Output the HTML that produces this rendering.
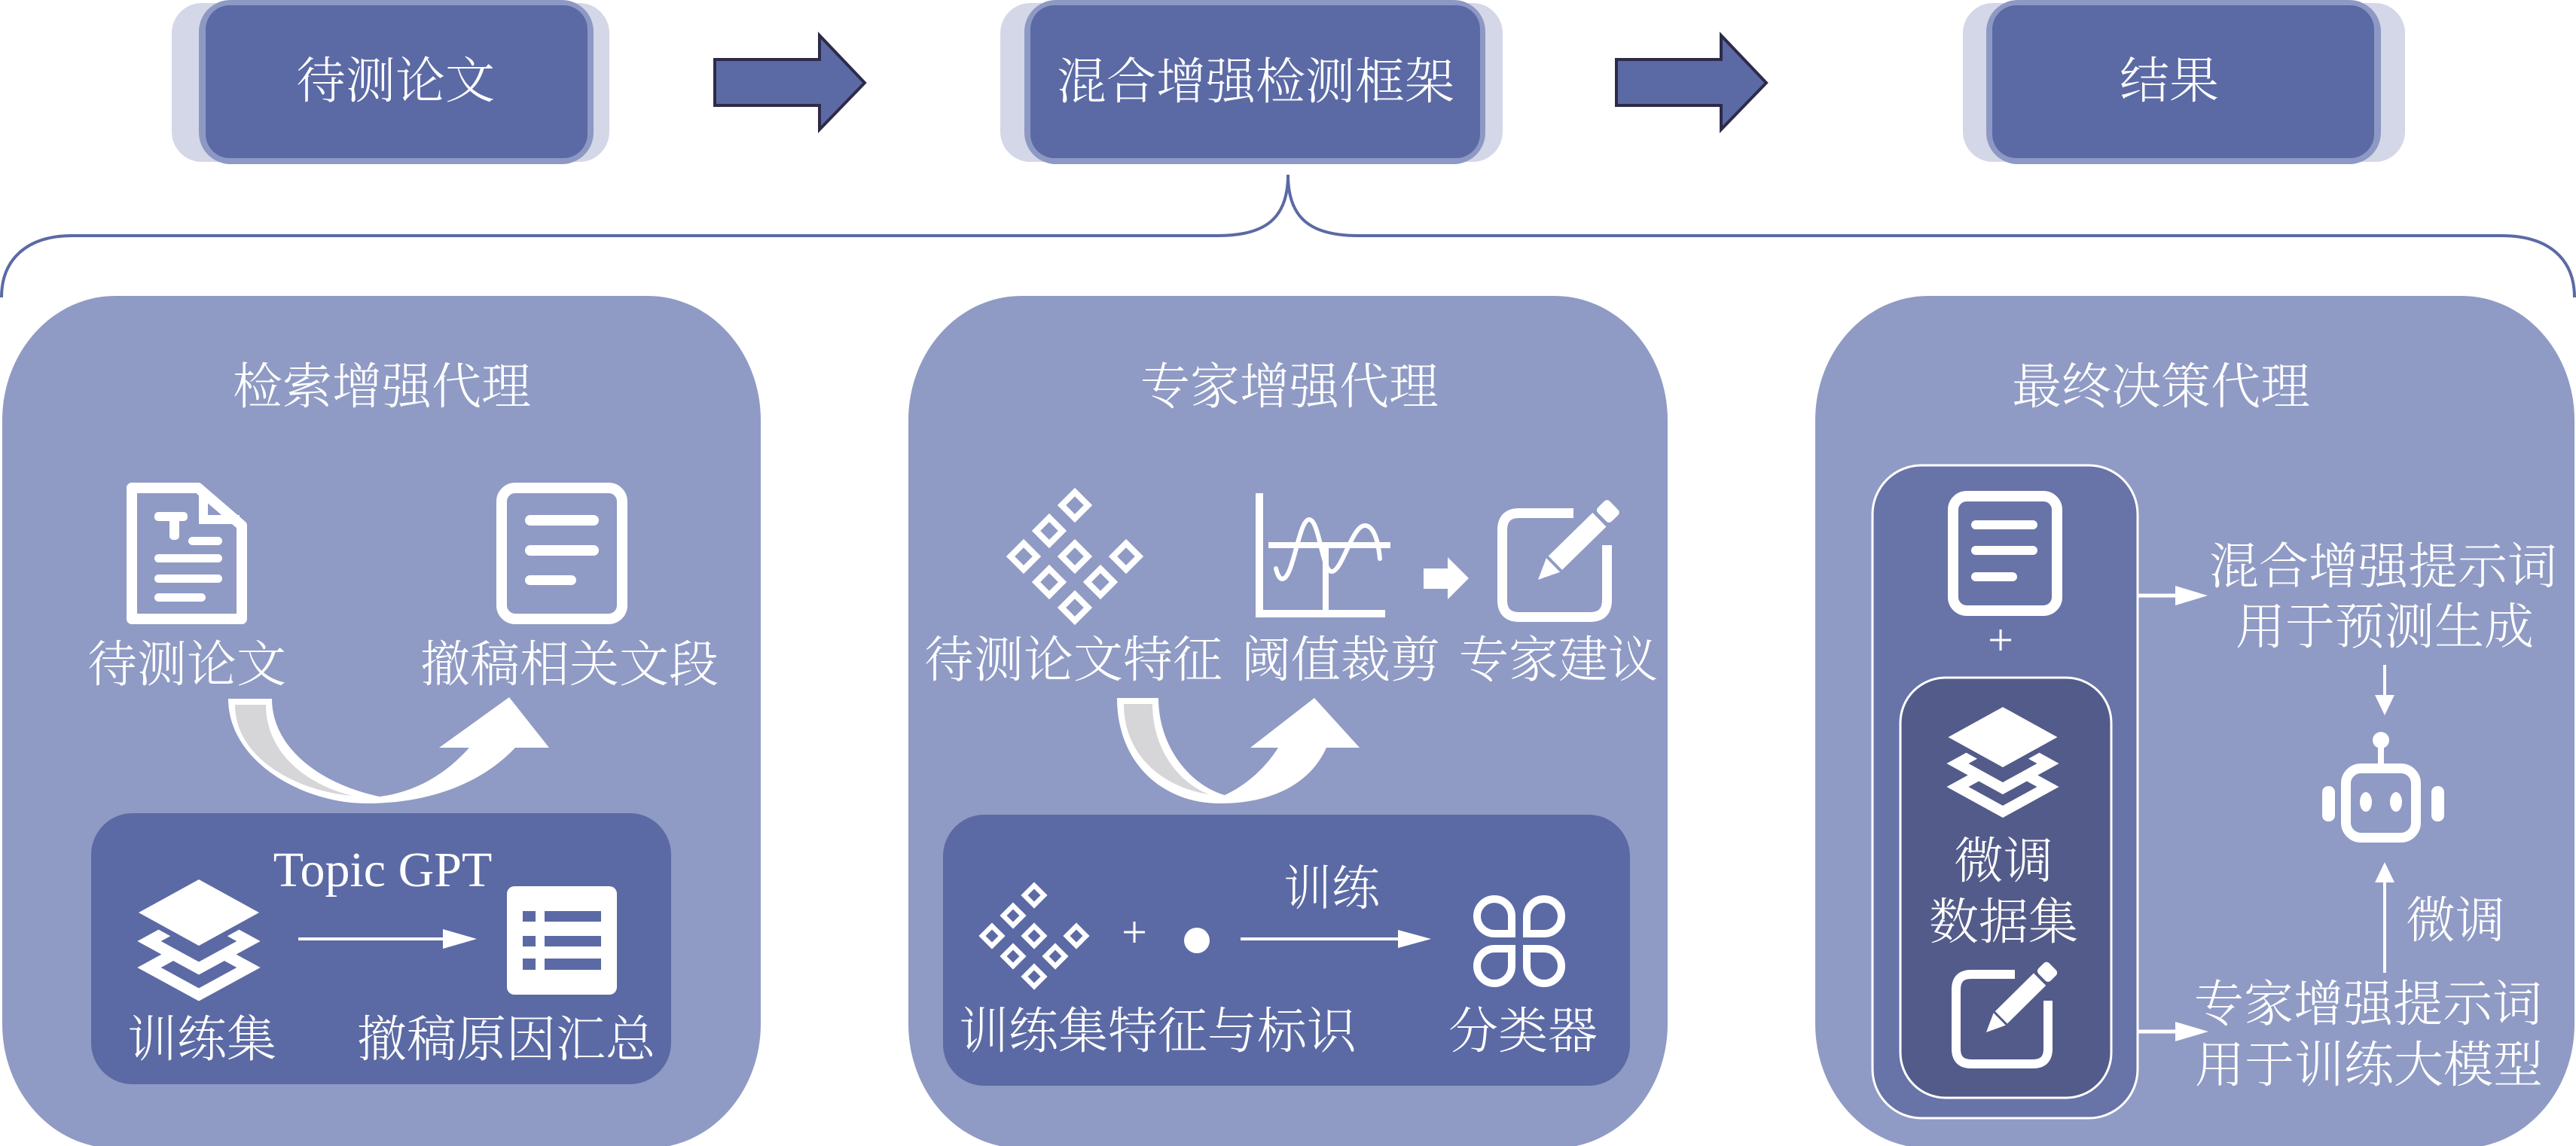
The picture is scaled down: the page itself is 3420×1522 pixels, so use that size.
<!DOCTYPE html>
<html><head><meta charset="utf-8"><style>
html,body{margin:0;padding:0;background:#fff;}
svg{display:block;}
text{font-family:"Liberation Serif","Noto Serif CJK SC",serif;fill:#fff;font-weight:300;}
</style></head><body>
<svg width="3420" height="1522" viewBox="0 0 3420 1522" xmlns="http://www.w3.org/2000/svg">
<!-- top boxes -->
<rect x="228" y="4" width="581" height="211" rx="40" fill="#d4d7e7"/>
<rect x="264" y="0" width="524" height="218" rx="42" fill="#8d99c4"/>
<rect x="273" y="7" width="507" height="203" rx="32" fill="#5b6aa4"/>
<text x="525" y="130" font-size="66" text-anchor="middle">待测论文</text>

<rect x="1328" y="4" width="667" height="211" rx="40" fill="#d4d7e7"/>
<rect x="1360" y="0" width="612" height="218" rx="42" fill="#8d99c4"/>
<rect x="1368" y="7" width="597" height="203" rx="32" fill="#5b6aa4"/>
<text x="1667" y="131" font-size="66" text-anchor="middle">混合增强检测框架</text>

<rect x="2606" y="4" width="587" height="211" rx="40" fill="#d4d7e7"/>
<rect x="2637" y="0" width="524" height="218" rx="42" fill="#8d99c4"/>
<rect x="2645" y="7" width="507" height="203" rx="32" fill="#5b6aa4"/>
<text x="2880" y="130" font-size="66" text-anchor="middle">结果</text>

<!-- big arrows -->
<polygon points="949,79 1088,79 1088,47 1148,110 1088,172 1088,140 949,140" fill="#5b6aa4" stroke="#2e2b48" stroke-width="4"/>
<polygon points="2146,79 2285,79 2285,47 2345,110 2285,172 2285,140 2146,140" fill="#5b6aa4" stroke="#2e2b48" stroke-width="4"/>

<!-- bracket -->
<path d="M 2 395 C 2 345, 35 313, 96 313 L 1617 313 C 1680 313, 1710 290, 1710 232 C 1710 290, 1740 313, 1803 313 L 3321 313 C 3385 313, 3418 345, 3418 395" fill="none" stroke="#5b6aa4" stroke-width="4"/>

<!-- panels -->
<rect x="3" y="393" width="1007" height="1132" rx="150" ry="165" fill="#8f9bc4"/>
<rect x="1206" y="393" width="1008" height="1132" rx="150" ry="165" fill="#8f9bc4"/>
<rect x="2410" y="393" width="1008" height="1132" rx="150" ry="165" fill="#8f9bc4"/>

<text x="507" y="536" font-size="66" text-anchor="middle">检索增强代理</text>
<text x="1712" y="536" font-size="66" text-anchor="middle">专家增强代理</text>
<text x="2869" y="536" font-size="66" text-anchor="middle">最终决策代理</text>

<!-- ===== Panel 1 ===== -->
<path d="M 175 648 L 263 648 L 321 698 L 321 822 L 175 822 Z" fill="none" stroke="#fff" stroke-width="14" stroke-linejoin="round"/>
<path d="M 270 652 L 270 690 L 318 690" fill="none" stroke="#fff" stroke-width="12"/>
<rect x="205" y="680" width="44" height="12" rx="5" fill="#fff"/>
<rect x="225" y="680" width="13" height="37" rx="5" fill="#fff"/>
<rect x="250" y="713" width="45" height="11" rx="5.5" fill="#fff"/>
<rect x="205" y="736" width="90" height="11" rx="5.5" fill="#fff"/>
<rect x="205" y="763" width="90" height="11" rx="5.5" fill="#fff"/>
<rect x="205" y="788" width="68" height="11" rx="5.5" fill="#fff"/>
<rect x="666" y="648" width="160" height="174" rx="18" fill="none" stroke="#fff" stroke-width="14"/>
<rect x="697" y="684" width="98" height="14" rx="7" fill="#fff"/>
<rect x="697" y="724" width="98" height="14" rx="7" fill="#fff"/>
<rect x="697" y="764" width="68" height="13" rx="6.5" fill="#fff"/>
<text x="248" y="905" font-size="66" text-anchor="middle">待测论文</text>
<text x="756" y="905" font-size="66" text-anchor="middle">撤稿相关文段</text>
<path d="M 303 928 L 361 928 C 361 990, 420 1040, 504 1058 C 550 1052, 590 1030, 623 993 L 583 993 L 676 926 L 729 993 L 684 993 C 640 1040, 570 1067, 487 1067 C 400 1067, 303 1010, 303 928 Z" fill="#fff"/>
<path d="M 312 936 L 353 936 C 353 995, 400 1040, 468 1057 C 390 1050, 312 1005, 312 936 Z" fill="#d6d6d8"/>
<rect x="121" y="1080" width="770" height="360" rx="55" fill="#5b6aa4"/>
<text x="508" y="1177" font-size="66" text-anchor="middle">Topic GPT</text>
<path d="M 264 1249 L 330 1285 L 264 1321 L 198 1285 Z" fill="none" stroke="#fff" stroke-width="15"/>
<path d="M 264 1214 L 330 1250 L 264 1286 L 198 1250 Z" fill="#5b6aa4" stroke="#fff" stroke-width="15"/>
<path d="M 264 1168 L 344 1212 L 264 1256 L 184 1212 Z" fill="#fff" stroke="#5b6aa4" stroke-width="14" paint-order="stroke"/>
<line x1="396" y1="1247" x2="592" y2="1247" stroke="#fff" stroke-width="4"/>
<polygon points="588,1234 633,1247 588,1260" fill="#fff"/>
<rect x="673" y="1177" width="146" height="144" rx="10" fill="#fff"/>
<rect x="694" y="1210" width="17" height="14" fill="#5b6aa4"/>
<rect x="723" y="1210" width="75" height="14" fill="#5b6aa4"/>
<rect x="694" y="1243" width="17" height="14" fill="#5b6aa4"/>
<rect x="723" y="1243" width="75" height="14" fill="#5b6aa4"/>
<rect x="694" y="1273" width="17" height="15" fill="#5b6aa4"/>
<rect x="723" y="1273" width="75" height="15" fill="#5b6aa4"/>
<text x="268" y="1403" font-size="66" text-anchor="middle">训练集</text>
<text x="672" y="1403" font-size="66" text-anchor="middle">撤稿原因汇总</text>

<!-- ===== Panel 2 ===== -->
<g fill="none" stroke="#fff" stroke-width="8">
<path d="M 1427 653.5 L 1444.5 671 L 1427 688.5 L 1409.5 671 Z"/>
<path d="M 1393 687.5 L 1410.5 705 L 1393 722.5 L 1375.5 705 Z"/>
<path d="M 1359 721.5 L 1376.5 739 L 1359 756.5 L 1341.5 739 Z"/>
<path d="M 1427 721.5 L 1444.5 739 L 1427 756.5 L 1409.5 739 Z"/>
<path d="M 1495 721.5 L 1512.5 739 L 1495 756.5 L 1477.5 739 Z"/>
<path d="M 1393 755.5 L 1410.5 773 L 1393 790.5 L 1375.5 773 Z"/>
<path d="M 1461 755.5 L 1478.5 773 L 1461 790.5 L 1443.5 773 Z"/>
<path d="M 1427 789.5 L 1444.5 807 L 1427 824.5 L 1409.5 807 Z"/>
</g>
<rect x="1667" y="655" width="10" height="165" fill="#fff"/>
<rect x="1667" y="810" width="172" height="10" fill="#fff"/>
<rect x="1684" y="720" width="162" height="8" fill="#fff"/>
<rect x="1756" y="724" width="8" height="90" fill="#fff"/>
<path d="M 1694 755 Q 1698 772 1705 768 C 1718 760, 1725 690, 1738 690 C 1752 690, 1755 759, 1768 759 C 1782 759, 1795 698, 1812 698 C 1825 698, 1830 722, 1832 742" fill="none" stroke="#fff" stroke-width="6" stroke-linecap="round"/>
<rect x="1890" y="755" width="33" height="27" fill="#fff"/>
<polygon points="1922,740 1950,768 1922,796" fill="#fff"/>
<path d="M 2089 681.5 L 2017 681.5 Q 1994.5 681.5 1994.5 704 L 1994.5 797 Q 1994.5 819.5 2017 819.5 L 2111 819.5 Q 2133.5 819.5 2133.5 797 L 2133.5 724" fill="none" stroke="#fff" stroke-width="13"/>
<g transform="translate(2042,770) rotate(-44.4)">
<polygon points="0,0 28,-13 28,13" fill="#fff"/>
<rect x="32" y="-13" width="82" height="26" fill="#fff"/>
<rect x="119" y="-13" width="22" height="26" rx="5" fill="#fff"/>
</g>
<text x="1425" y="899" font-size="66" text-anchor="middle">待测论文特征</text>
<text x="1780" y="899" font-size="66" text-anchor="middle">阈值裁剪</text>
<text x="2069" y="899" font-size="66" text-anchor="middle">专家建议</text>
<path d="M 1483 927 L 1538 927 C 1538 990, 1578 1042, 1626 1056 C 1660 1040, 1683 1015, 1697 993 L 1660 993 L 1745 927 L 1805 993 L 1761 993 C 1740 1040, 1690 1067, 1620 1067 C 1540 1067, 1483 1010, 1483 927 Z" fill="#fff"/>
<path d="M 1492 935 L 1530 935 C 1530 992, 1562 1038, 1605 1055 C 1540 1045, 1492 1000, 1492 935 Z" fill="#d6d6d8"/>
<rect x="1252" y="1082" width="912" height="360" rx="55" fill="#5b6aa4"/>
<g fill="none" stroke="#fff" stroke-width="6.5">
<path d="M 1373 1176 L 1386 1189 L 1373 1202 L 1360 1189 Z"/>
<path d="M 1345 1203 L 1358 1216 L 1345 1229 L 1332 1216 Z"/>
<path d="M 1317 1230 L 1330 1243 L 1317 1256 L 1304 1243 Z"/>
<path d="M 1373 1230 L 1386 1243 L 1373 1256 L 1360 1243 Z"/>
<path d="M 1429 1230 L 1442 1243 L 1429 1256 L 1416 1243 Z"/>
<path d="M 1345 1257 L 1358 1270 L 1345 1283 L 1332 1270 Z"/>
<path d="M 1401 1257 L 1414 1270 L 1401 1283 L 1388 1270 Z"/>
<path d="M 1373 1284 L 1386 1297 L 1373 1310 L 1360 1297 Z"/>
</g>
<text x="1506" y="1258" font-size="60" text-anchor="middle">+</text>
<circle cx="1589" cy="1249" r="17" fill="#fff"/>
<text x="1768" y="1202" font-size="64" text-anchor="middle">训练</text>
<line x1="1647" y1="1247" x2="1858" y2="1247" stroke="#fff" stroke-width="4"/>
<polygon points="1856,1235 1900,1247 1856,1259" fill="#fff"/>
<g fill="none" stroke="#fff" stroke-width="10">
<path d="M 2007 1240 L 1984 1240 A 23 23 0 0 1 1961 1217 A 23 23 0 0 1 1984 1194 A 23 23 0 0 1 2007 1217 Z"/>
<path d="M 2027 1240 L 2050 1240 A 23 23 0 0 0 2073 1217 A 23 23 0 0 0 2050 1194 A 23 23 0 0 0 2027 1217 Z"/>
<path d="M 2007 1260 L 1984 1260 A 23 23 0 0 0 1961 1283 A 23 23 0 0 0 1984 1306 A 23 23 0 0 0 2007 1283 Z"/>
<path d="M 2027 1260 L 2050 1260 A 23 23 0 0 1 2073 1283 A 23 23 0 0 1 2050 1306 A 23 23 0 0 1 2027 1283 Z"/>
</g>
<text x="1537" y="1392" font-size="66" text-anchor="middle">训练集特征与标识</text>
<text x="2022" y="1392" font-size="66" text-anchor="middle">分类器</text>

<!-- ===== Panel 3 ===== -->
<rect x="2486" y="618" width="352" height="867" rx="65" fill="#6874a8" stroke="#fff" stroke-width="3"/>
<rect x="2593" y="659" width="138" height="152" rx="18" fill="none" stroke="#fff" stroke-width="14"/>
<rect x="2617" y="691" width="88" height="12" rx="6" fill="#fff"/>
<rect x="2617" y="725" width="88" height="12" rx="6" fill="#fff"/>
<rect x="2617" y="760" width="61" height="12" rx="6" fill="#fff"/>
<text x="2656" y="870" font-size="60" text-anchor="middle">+</text>
<rect x="2523" y="900" width="280" height="558" rx="60" fill="#535b8a" stroke="#fff" stroke-width="3"/>
<path d="M 2659 1012 L 2719 1045 L 2659 1078 L 2599 1045 Z" fill="none" stroke="#fff" stroke-width="14"/>
<path d="M 2659 981 L 2719 1014 L 2659 1047 L 2599 1014 Z" fill="#535b8a" stroke="#fff" stroke-width="14"/>
<path d="M 2659 939 L 2731.5 979 L 2659 1019 L 2586.5 979 Z" fill="#fff" stroke="#535b8a" stroke-width="13" paint-order="stroke"/>
<text x="2660" y="1166" font-size="66" text-anchor="middle">微调</text>
<text x="2660" y="1247" font-size="66" text-anchor="middle">数据集</text>
<path d="M 2675 1294 L 2617 1294 Q 2597 1294 2597 1314 L 2597 1393 Q 2597 1413 2617 1413 L 2699 1413 Q 2719 1413 2719 1393 L 2719 1329" fill="none" stroke="#fff" stroke-width="12"/>
<g transform="translate(2637,1371) rotate(-44.7)">
<polygon points="0,0 25,-11.5 25,11.5" fill="#fff"/>
<rect x="28" y="-11.5" width="72" height="23" fill="#fff"/>
<rect x="104" y="-11.5" width="20" height="23" rx="5" fill="#fff"/>
</g>
<line x1="2838" y1="791" x2="2892" y2="791" stroke="#fff" stroke-width="5"/>
<polygon points="2888,778 2931,791 2888,804" fill="#fff"/>
<line x1="2838" y1="1370" x2="2892" y2="1370" stroke="#fff" stroke-width="5"/>
<polygon points="2888,1357 2932,1370 2888,1383" fill="#fff"/>
<text x="3164" y="775" font-size="66" text-anchor="middle">混合增强提示词</text>
<text x="3166" y="855" font-size="66" text-anchor="middle">用于预测生成</text>
<line x1="3166" y1="883" x2="3166" y2="926" stroke="#fff" stroke-width="4"/>
<polygon points="3153,923 3179,923 3166,950" fill="#fff"/>
<line x1="3166" y1="1292" x2="3166" y2="1168" stroke="#fff" stroke-width="4"/>
<polygon points="3153,1172 3179,1172 3166,1145" fill="#fff"/>
<text x="3260" y="1245" font-size="66" text-anchor="middle">微调</text>
<text x="3144" y="1356" font-size="66" text-anchor="middle">专家增强提示词</text>
<text x="3145" y="1437" font-size="66" text-anchor="middle">用于训练大模型</text>
<circle cx="3161" cy="983" r="11" fill="#fff"/>
<rect x="3157" y="990" width="8" height="26" fill="#fff"/>
<rect x="3114.5" y="1020.5" width="93" height="92" rx="20" fill="none" stroke="#fff" stroke-width="13"/>
<rect x="3083" y="1044" width="17" height="47" rx="8" fill="#fff"/>
<rect x="3228" y="1044" width="17" height="47" rx="8" fill="#fff"/>
<ellipse cx="3141" cy="1065" rx="8" ry="13" fill="#fff"/>
<ellipse cx="3181" cy="1065" rx="8" ry="13" fill="#fff"/>
</svg>
</body></html>
